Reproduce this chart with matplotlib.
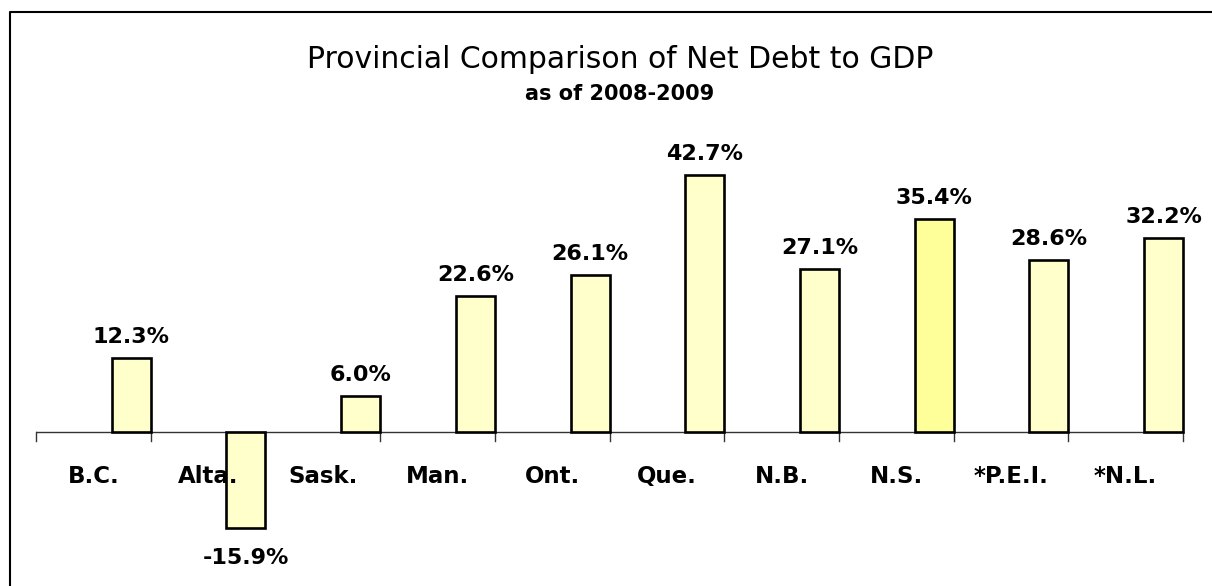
import matplotlib
matplotlib.use("Agg")
import matplotlib.pyplot as plt
from matplotlib.lines import Line2D
import numpy as np

plt.rcParams['font.family'] = ['DejaVu Sans']

provinces = ["B.C.", "Alta.", "Sask.", "Man.", "Ont.", "Que.", "N.B.", "N.S.", "*P.E.I.", "*N.L."]
net_debt_pct = [12.3, -15.9, 6.0, 22.6, 26.1, 42.7, 27.1, 35.4, 28.6, 32.2]
highlight = "N.S."

W, H = 1212, 586
fig = plt.figure(figsize=(W / 100, H / 100), dpi=100)
ax = fig.add_axes([36 / W, 0.0, 1147 / W, 456 / H])

x = np.arange(len(provinces))
bar_w = 0.34
colors = ["#FFFF99" if p == highlight else "#FFFFCC" for p in provinces]
# bars sit against the right edge of each category slot
bars = ax.bar(x + 0.5 - bar_w / 2, net_debt_pct, width=bar_w, color=colors,
              edgecolor="black", linewidth=1.9, zorder=3)
for b in bars:
    b.set_clip_on(False)

ax.set_xlim(-0.5, len(provinces) - 0.5)
ax.set_ylim(-25.6, 50.2)

# category axis drawn at zero with tick marks between categories
ax.axhline(0, color="#333333", linewidth=1.0, zorder=2)
for b in np.arange(-0.5, len(provinces), 1.0):
    ax.plot([b, b], [0, -1.5], color="#333333", linewidth=1.0, zorder=2, clip_on=False)

for xi, name in zip(x, provinces):
    ax.text(xi, -8.4, name, ha="center", va="baseline", fontsize=16.5, fontweight="bold",
            zorder=4)

for xi, v in zip(x, net_debt_pct):
    if v >= 0:
        ax.text(xi + 0.5 - bar_w / 2, v + 2.5, f"{v:.1f}%", ha="center", va="baseline",
                fontsize=16, fontweight="bold")
    else:
        ax.text(xi + 0.5 - bar_w / 2, v - 6.1, f"{v:.1f}%", ha="center", va="baseline",
                fontsize=16, fontweight="bold")

ax.axis("off")

fig.text(620 / W, 1 - 68 / H, "Provincial Comparison of Net Debt to GDP",
         ha="center", va="baseline", fontsize=21.5)
fig.text(620 / W, 1 - 100 / H, "as of 2008-2009",
         ha="center", va="baseline", fontsize=15, fontweight="bold")

# outer frame (left and top edges)
fig.add_artist(Line2D([10 / W, 10 / W, 1.0], [0.0, 1 - 12 / H, 1 - 12 / H],
                      transform=fig.transFigure, color="black", linewidth=1.5))

fig.savefig("out.png", dpi=100)
